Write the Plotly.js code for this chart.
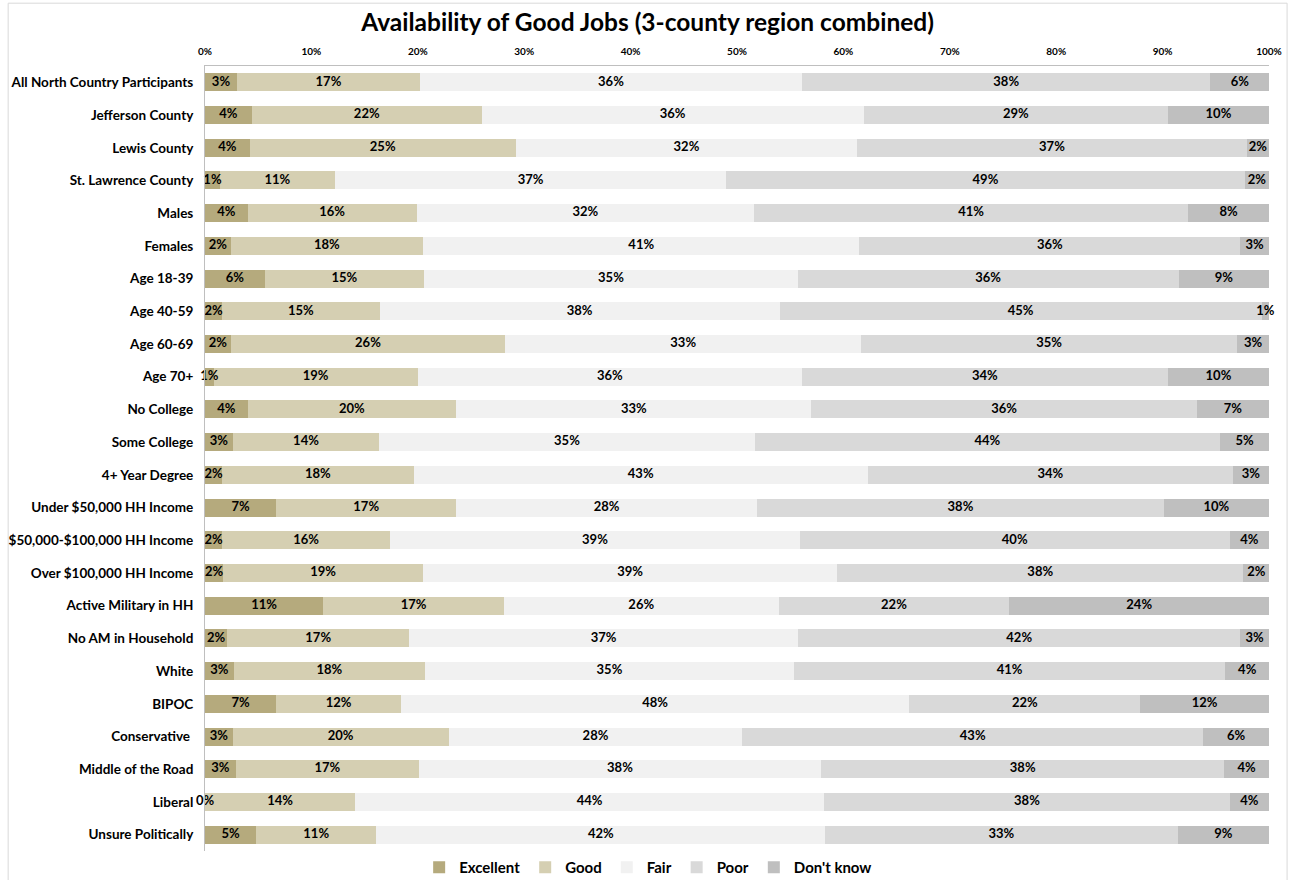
<!DOCTYPE html>
<html>
<head>
<meta charset="utf-8">
<script src="https://cdn.plot.ly/plotly-3.0.1.min.js"></script>
<style>html,body{margin:0;padding:0;background:#fff;}#chart{width:1290px;height:880px;}</style>
</head>
<body>
<div id="chart"></div>
<script>
const categories = [
  "All North Country Participants", "Jefferson County", "Lewis County", "St. Lawrence County",
  "Males", "Females", "Age 18-39", "Age 40-59", "Age 60-69", "Age 70+",
  "No College", "Some College", "4+ Year Degree", "Under $50,000 HH Income",
  "$50,000-$100,000 HH Income", "Over $100,000 HH Income", "Active Military in HH",
  "No AM in Household", "White", "BIPOC", "Conservative ", "Middle of the Road",
  "Liberal", "Unsure Politically"
];
const excellent = [3.0,4.4,4.2,1.4,4.0,2.4,5.6,1.6,2.4,0.8,4.0,2.6,1.6,6.7,1.6,1.7,11.1,2.1,2.7,6.7,2.6,2.9,0,4.8];
const good      = [17.2,21.6,25.0,10.8,15.9,18.1,15.0,14.8,25.8,19.2,19.6,13.8,18.0,16.9,15.8,18.8,17.0,17.1,18.0,11.7,20.3,17.2,14.1,11.3];
const fair      = [35.9,35.9,32.1,36.8,31.7,41.0,35.1,37.6,33.4,36.1,33.4,35.3,42.7,28.3,38.5,38.9,25.8,36.6,34.7,47.8,27.6,37.8,44.1,42.2];
const poor      = [38.4,28.6,36.6,48.7,40.8,35.8,35.8,45.3,35.3,34.4,36.2,43.8,34.3,38.2,40.4,38.2,21.7,41.6,40.6,21.7,43.3,37.9,38.1,33.1];
const dontKnow  = [5.5,9.5,2.1,2.3,7.6,2.7,8.5,0.7,3.0,9.5,6.8,4.6,3.4,9.9,3.7,2.4,24.4,2.7,4.1,12.1,6.2,4.2,3.7,8.6];
const seriesNames = ["Excellent", "Good", "Fair", "Poor", "Don't know"];
const seriesValues = [excellent, good, fair, poor, dontKnow];
const seriesColors = ["#b5aa7d", "#d5cfb2", "#f1f1f1", "#d9d9d9", "#bfbfbf"];
const tickValues = [0, 10, 20, 30, 40, 50, 60, 70, 80, 90, 100];
const tickLabels = ["0%", "10%", "20%", "30%", "40%", "50%", "60%", "70%", "80%", "90%", "100%"];

const FONT = "Lato, 'Open Sans', sans-serif";
const LABEL_FONT = {family: FONT, size: 13, color: "#000", weight: 700};

const barTraces = seriesValues.map((vals, i) => ({
  type: "bar",
  orientation: "h",
  name: seriesNames[i],
  y: categories,
  x: vals,
  marker: {color: seriesColors[i], line: {width: 0}},
  hoverinfo: "skip"
}));

// data labels drawn above all bars (centred in each normalised segment)
const rowTotals = categories.map((_, j) => seriesValues.reduce((s, arr) => s + arr[j], 0));
const labelTraces = seriesValues.map((vals, i) => ({
  type: "scatter",
  mode: "text",
  showlegend: false,
  hoverinfo: "skip",
  cliponaxis: false,
  y: categories,
  x: vals.map((v, j) => {
    let start = 0;
    for (let k = 0; k < i; k++) start += seriesValues[k][j];
    return (start + v / 2) * 100 / rowTotals[j];
  }),
  text: vals.map(v => Math.round(v) + "%"),
  textposition: "middle center",
  textfont: LABEL_FONT
}));

const layout = {
  width: 1290, height: 880,
  paper_bgcolor: "#fff", plot_bgcolor: "#fff",
  margin: {l: 205, r: 21, t: 66, b: 26},
  barmode: "stack",
  barnorm: "percent",
  bargap: 0.45,
  title: {
    text: "Availability of Good Jobs (3-county region combined)",
    font: {family: FONT, size: 24.5, color: "#000", weight: 700},
    xref: "container", x: 0.502, xanchor: "center",
    yref: "container", y: 0.975, yanchor: "middle"
  },
  xaxis: {
    side: "top", range: [0, 100.0001], autorange: false, tickvals: tickValues, ticktext: tickLabels,
    showgrid: false, zeroline: false, showline: true, linecolor: "#bfbfbf", linewidth: 1,
    ticks: "outside", ticklen: 6, tickcolor: "rgba(0,0,0,0)",
    tickfont: {family: FONT, size: 10, color: "#000", weight: 700},
    fixedrange: true
  },
  yaxis: {
    type: "category", autorange: false, range: [categories.length - 0.5, -0.5],
    showgrid: false, zeroline: false, showline: true, linecolor: "#bfbfbf", linewidth: 1,
    ticks: "outside", ticklen: 8, tickcolor: "rgba(0,0,0,0)",
    tickfont: {family: FONT, size: 13.5, color: "#000", weight: 700},
    fixedrange: true
  },
  showlegend: true,
  legend: {
    orientation: "h", xref: "paper", x: 0.4165, xanchor: "center",
    yref: "container", y: 0.03295, yanchor: "top",
    font: {family: FONT, size: 15, color: "#000", weight: 700},
    traceorder: "normal", itemclick: false, itemdoubleclick: false
  },
  shapes: [{
    type: "rect", xref: "paper", yref: "paper",
    x0: -0.185, x1: 1.017, y0: -0.06, y1: 1.080,
    line: {color: "#d9d9d9", width: 1}, fillcolor: "rgba(0,0,0,0)", layer: "below"
  }]
};

Plotly.newPlot("chart", barTraces.concat(labelTraces), layout, {displayModeBar: false, staticPlot: true});
</script>
</body>
</html>
